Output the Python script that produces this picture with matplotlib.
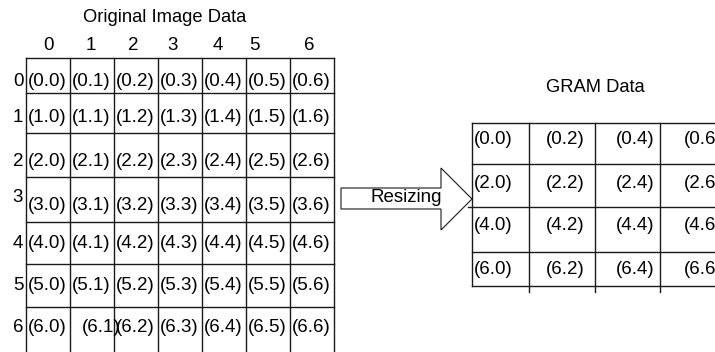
import matplotlib.pyplot as plt
from matplotlib.patches import Polygon

plt.rcParams['font.family'] = ['Liberation Sans', 'DejaVu Sans']

# Labels of the original image (7 x 7) and of the resized GRAM data (4 x 4)
col_labels = ['0', '1', '2', '3', '4', '5', '6']
row_labels = ['0', '1', '2', '3', '4', '5', '6']
original_cells = [
    ['(0.0)', '(0.1)', '(0.2)', '(0.3)', '(0.4)', '(0.5)', '(0.6)'],
    ['(1.0)', '(1.1)', '(1.2)', '(1.3)', '(1.4)', '(1.5)', '(1.6)'],
    ['(2.0)', '(2.1)', '(2.2)', '(2.3)', '(2.4)', '(2.5)', '(2.6)'],
    ['(3.0)', '(3.1)', '(3.2)', '(3.3)', '(3.4)', '(3.5)', '(3.6)'],
    ['(4.0)', '(4.1)', '(4.2)', '(4.3)', '(4.4)', '(4.5)', '(4.6)'],
    ['(5.0)', '(5.1)', '(5.2)', '(5.3)', '(5.4)', '(5.5)', '(5.6)'],
    ['(6.0)', '(6.1)', '(6.2)', '(6.3)', '(6.4)', '(6.5)', '(6.6)'],
]
gram_cells = [
    ['(0.0)', '(0.2)', '(0.4)', '(0.6)'],
    ['(2.0)', '(2.2)', '(2.4)', '(2.6)'],
    ['(4.0)', '(4.2)', '(4.4)', '(4.6)'],
    ['(6.0)', '(6.2)', '(6.4)', '(6.6)'],
]

# Layout in pixels of the 715 x 352 picture
left_vlines = [26, 70, 114, 158, 202, 246, 290, 334]
left_hlines = [58, 93, 133, 177, 222, 264, 307]
left_row_y = [81, 118, 161, 205, 243, 285, 328]
header_x = [48, 91, 133, 173, 218, 254, 309]
row_label_y = [81, 118, 161, 197, 243, 285, 328]

right_vlines = [472, 529, 595, 660]
right_hlines = [123, 164, 207, 252, 286]
right_row_y = [140, 183, 226, 269]
right_col_x = [474, 546, 616, 684]

line_color = '#1a1a1a'
fs = 13.5

fig = plt.figure(figsize=(7.15, 3.52), dpi=100)
ax = fig.add_axes([0, 0, 1, 1])
ax.set_xlim(0, 715)
ax.set_ylim(352, 0)
ax.axis('off')

# Original image grid
ax.text(165, 18, 'Original Image Data', ha='center', va='center', fontsize=13.2)
for x, lab in zip(header_x, col_labels):
    ax.text(x, 46, lab, ha='center', va='center', fontsize=fs)
for y, lab in zip(row_label_y, row_labels):
    ax.text(18, y, lab, ha='center', va='center', fontsize=fs)
for x in left_vlines:
    ax.plot([x, x], [58, 352], color=line_color, lw=1)
for y in left_hlines:
    ax.plot([26, 334], [y, y], color=line_color, lw=1)
for r, row in enumerate(original_cells):
    for c, lab in enumerate(row):
        x = left_vlines[c] + 2
        if r == 6 and c == 1:
            x = left_vlines[c] + 12
        ax.text(x, left_row_y[r], lab, ha='left', va='center', fontsize=fs)

# Resizing arrow
arrow = Polygon([[341, 188], [441, 188], [441, 168], [472, 199],
                 [441, 230], [441, 209], [341, 209]],
                closed=True, facecolor='white', edgecolor=line_color, lw=0.8)
ax.add_patch(arrow)
ax.text(406, 198, 'Resizing', ha='center', va='center', fontsize=fs)

# GRAM grid (the last column is cut off by the picture's right edge, as in the source)
ax.text(595, 88, 'GRAM Data', ha='center', va='center', fontsize=13.2)
ax.plot([472, 472], [123, 286], color=line_color, lw=1)
for x in right_vlines[1:]:
    ax.plot([x, x], [123, 292], color=line_color, lw=1)
for y in right_hlines:
    x0 = 468 if y == 207 else 472
    ax.plot([x0, 715], [y, y], color=line_color, lw=1)
for r, row in enumerate(gram_cells):
    for c, lab in enumerate(row):
        ax.text(right_col_x[c], right_row_y[r], lab, ha='left', va='center', fontsize=fs)

fig.savefig('out.png', dpi=100)
